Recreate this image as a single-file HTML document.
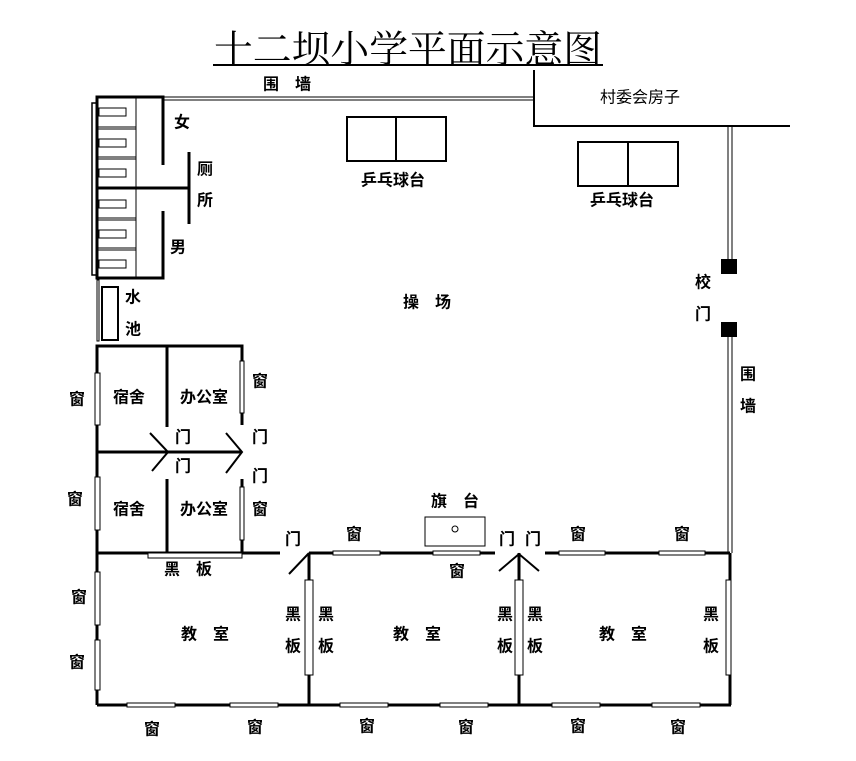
<!DOCTYPE html>
<html><head><meta charset="utf-8"><style>
html,body{margin:0;padding:0;background:#fff;}
svg{display:block;}
text{font-family:"Liberation Sans","Noto Sans CJK SC",sans-serif;font-size:16px;font-weight:bold;fill:#000;text-anchor:middle;dominant-baseline:central;}
</style></head><body>
<svg width="856" height="761" viewBox="0 0 856 761" xmlns="http://www.w3.org/2000/svg">
<rect width="856" height="761" fill="#fff"/>
<text x="408" y="46" style="font-size:38px;font-weight:normal;font-family:'Noto Serif CJK SC',serif" textLength="388" lengthAdjust="spacingAndGlyphs">十二坝小学平面示意图</text>
<line x1="213" y1="65" x2="603" y2="65" stroke="#000" stroke-width="2"/>

<g stroke="#000" fill="none">
<line x1="163" y1="97" x2="534" y2="97" stroke-width="1"/>
<line x1="163" y1="100" x2="534" y2="100" stroke-width="1"/>
<polyline points="534,70 534,126 790,126" stroke-width="2"/>
<line x1="728" y1="126" x2="728" y2="260" stroke-width="1"/>
<line x1="732" y1="126" x2="732" y2="260" stroke-width="1"/>
<line x1="728" y1="337" x2="728" y2="553" stroke-width="1"/>
<line x1="732" y1="337" x2="732" y2="553" stroke-width="1"/>
<rect x="92" y="103" width="5" height="172" stroke-width="1.5"/>
<polyline points="163,165 163,97 97,97 97,278 163,278 163,211" stroke-width="3"/>
<line x1="136" y1="97" x2="136" y2="278" stroke-width="1"/>
<line x1="97" y1="127" x2="136" y2="127"/><line x1="97" y1="129" x2="136" y2="129"/>
<line x1="97" y1="157" x2="136" y2="157"/><line x1="97" y1="159" x2="136" y2="159"/>
<line x1="97" y1="218" x2="136" y2="218"/><line x1="97" y1="220" x2="136" y2="220"/>
<line x1="97" y1="248" x2="136" y2="248"/><line x1="97" y1="250" x2="136" y2="250"/>
<line x1="97" y1="188" x2="189" y2="188" stroke-width="3"/>
<line x1="189" y1="152" x2="189" y2="224" stroke-width="3"/>
<rect x="99" y="108" width="27" height="8" stroke-width="1"/>
<rect x="99" y="139" width="27" height="8" stroke-width="1"/>
<rect x="99" y="169" width="27" height="8" stroke-width="1"/>
<rect x="99" y="200" width="27" height="8" stroke-width="1"/>
<rect x="99" y="230" width="27" height="8" stroke-width="1"/>
<rect x="99" y="260" width="27" height="8" stroke-width="1"/>
<rect x="97" y="280" width="2" height="61" stroke-width="1"/>
<rect x="102" y="287" width="16" height="53" stroke-width="2"/>
<polyline points="97,705 97,346 242,346 242,425" stroke-width="3"/>
<line x1="167" y1="346" x2="167" y2="427" stroke-width="3"/>
<line x1="167" y1="479" x2="167" y2="553" stroke-width="3"/>
<line x1="242" y1="479" x2="242" y2="553" stroke-width="3"/>
<line x1="97" y1="452" x2="242" y2="452" stroke-width="3"/>
<polyline points="150,433 168,452 152,471" stroke-width="2"/>
<polyline points="226,433 242,452 226,473" stroke-width="2"/>
<line x1="97" y1="553" x2="280" y2="553" stroke-width="3"/>
<rect x="148" y="553" width="94" height="5" stroke-width="1" fill="#fff"/>
<line x1="289" y1="574" x2="309" y2="553" stroke-width="2"/>
<line x1="309" y1="553" x2="495" y2="553" stroke-width="3"/>
<line x1="545" y1="553" x2="730" y2="553" stroke-width="3"/>
<line x1="309" y1="553" x2="309" y2="705" stroke-width="3"/>
<line x1="519" y1="553" x2="519" y2="705" stroke-width="3"/>
<line x1="730" y1="553" x2="730" y2="705" stroke-width="3"/>
<polyline points="499,571 519,554 539,571" stroke-width="2"/>
<line x1="97" y1="705" x2="731" y2="705" stroke-width="3"/>
<g fill="#fff" stroke-width="1">
<rect x="240" y="361" width="4" height="52"/>
<rect x="240" y="487" width="4" height="53"/>
<rect x="95" y="373" width="5" height="52"/>
<rect x="95" y="477" width="5" height="53"/>
<rect x="95" y="572" width="5" height="53"/>
<rect x="95" y="640" width="5" height="50"/>
<rect x="333" y="551" width="47" height="4"/>
<rect x="433" y="551" width="47" height="4"/>
<rect x="559" y="551" width="46" height="4"/>
<rect x="659" y="551" width="46" height="4"/>
<rect x="305" y="580" width="8" height="95"/>
<rect x="515" y="580" width="8" height="95"/>
<rect x="726" y="580" width="5" height="95"/>
<rect x="127" y="703" width="48" height="4"/>
<rect x="230" y="703" width="48" height="4"/>
<rect x="340" y="703" width="48" height="4"/>
<rect x="440" y="703" width="48" height="4"/>
<rect x="552" y="703" width="48" height="4"/>
<rect x="652" y="703" width="48" height="4"/>
</g>
<rect x="425" y="517" width="60" height="29" stroke-width="1"/>
<circle cx="455" cy="529" r="3" stroke-width="1"/>
<rect x="347" y="117" width="99" height="44" stroke-width="2"/>
<line x1="396" y1="117" x2="396" y2="161" stroke-width="2"/>
<rect x="578" y="142" width="100" height="44" stroke-width="2"/>
<line x1="628" y1="142" x2="628" y2="186" stroke-width="2"/>
</g>
<rect x="721" y="259" width="16" height="15" fill="#000"/>
<rect x="721" y="322" width="16" height="15" fill="#000"/>

<text x="287" y="85">围　墙</text>
<text x="640" y="98" style="font-weight:normal">村委会房子</text>
<text x="393" y="181">乒乓球台</text>
<text x="622" y="201">乒乓球台</text>
<text x="427" y="303">操　场</text>
<text x="703" y="283">校</text>
<text x="703" y="315">门</text>
<text x="748" y="375">围</text>
<text x="748" y="407">墙</text>
<text x="182" y="123">女</text>
<text x="205" y="170">厕</text>
<text x="205" y="201">所</text>
<text x="178" y="248">男</text>
<text x="133" y="298">水</text>
<text x="133" y="330">池</text>
<text x="129" y="398">宿舍</text>
<text x="204" y="398">办公室</text>
<text x="260" y="382">窗</text>
<text x="183" y="438">门</text>
<text x="260" y="438">门</text>
<text x="183" y="467">门</text>
<text x="260" y="477">门</text>
<text x="129" y="510">宿舍</text>
<text x="204" y="510">办公室</text>
<text x="260" y="510">窗</text>
<text x="77" y="400">窗</text>
<text x="75" y="500">窗</text>
<text x="79" y="598">窗</text>
<text x="77" y="663">窗</text>
<text x="188" y="570">黑　板</text>
<text x="293" y="540">门</text>
<text x="354" y="535">窗</text>
<text x="455" y="502">旗　台</text>
<text x="457" y="572">窗</text>
<text x="507" y="540">门</text>
<text x="533" y="540">门</text>
<text x="578" y="535">窗</text>
<text x="682" y="535">窗</text>
<text x="205" y="635">教　室</text>
<text x="417" y="635">教　室</text>
<text x="623" y="635">教　室</text>
<text x="293" y="615">黑</text><text x="293" y="647">板</text>
<text x="326" y="615">黑</text><text x="326" y="647">板</text>
<text x="505" y="615">黑</text><text x="505" y="647">板</text>
<text x="535" y="615">黑</text><text x="535" y="647">板</text>
<text x="711" y="615">黑</text><text x="711" y="647">板</text>
<text x="152" y="730">窗</text>
<text x="255" y="728">窗</text>
<text x="367" y="727">窗</text>
<text x="466" y="728">窗</text>
<text x="578" y="727">窗</text>
<text x="678" y="728">窗</text>
</svg>
</body></html>
